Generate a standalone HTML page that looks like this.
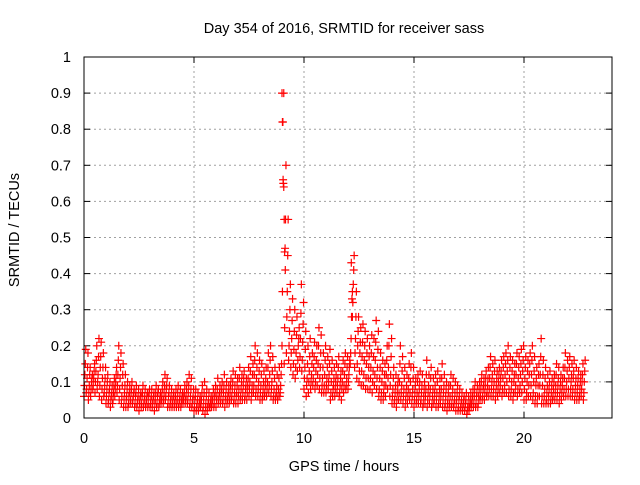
<!DOCTYPE html>
<html><head><meta charset="utf-8">
<style>
html,body{margin:0;padding:0;background:#fff;}
svg text{font-family:"Liberation Sans",sans-serif;font-size:14.5px;fill:#000;}
</style></head>
<body>
<svg id="chart" width="640" height="480" viewBox="0 0 640 480" xmlns="http://www.w3.org/2000/svg">
<rect width="640" height="480" fill="#fff"/>
<text x="344" y="33" text-anchor="middle">Day 354 of 2016, SRMTID for receiver sass</text>
<text x="344" y="471" text-anchor="middle">GPS time / hours</text>
<text transform="translate(19,230) rotate(-90)" text-anchor="middle">SRMTID / TECUs</text>
<g id="grid"></g>
<g id="ticks"></g>
<g id="marks"></g>
<rect x="84" y="57" width="528" height="361" fill="none" stroke="#000" stroke-width="1"/>
</svg>
<script>
const xTicks=[0,5,10,15,20];
const yTicks=[0,0.1,0.2,0.3,0.4,0.5,0.6,0.7,0.8,0.9,1];
const yTickLabels=["0","0.1","0.2","0.3","0.4","0.5","0.6","0.7","0.8","0.9","1"];
const timeStep=0.1;
const hiVals=[19,18,14,12,15,20,22,21,18,14,12,10,9,11,14,20,18,15,12,10,9,10,8,9,8,7,9,8,7,8,8,7,9,8,7,10,12,11,9,8,7,8,9,8,7,9,10,12,11,8,8,7,6,9,10,8,7,6,8,9,11,9,10,12,10,9,11,13,12,11,14,12,13,11,14,17,15,20,18,16,15,13,14,18,20,17,14,12,14,15,90,70,55,37,33,30,28,25,37,32,24,20,22,18,21,20,25,23,18,20,17,19,16,14,15,17,13,16,18,17,16,33,45,35,28,25,26,24,22,20,23,22,27,24,18,16,15,20,26,22,14,12,11,20,17,14,12,15,18,14,11,12,13,12,10,16,12,14,11,12,13,11,15,12,10,9,12,11,10,9,8,7,6,7,6,7,8,10,9,10,12,11,13,14,17,15,16,13,14,16,17,18,20,17,16,15,18,17,19,20,17,16,18,20,17,14,15,22,16,14,12,13,11,12,15,14,12,14,18,16,17,15,16,14,13,12,15,16];
const q3Vals=[15,14,12,11,13,16,17,17,14,11,10,8,7,9,12,16,14,12,9,8,7,8,7,7,6,6,7,6,6,7,6,6,7,7,6,8,9,9,7,6,6,6,7,6,6,7,8,9,8,6,6,5,5,7,7,6,5,5,6,7,8,7,8,9,8,7,9,10,9,9,11,10,11,9,11,13,12,16,14,13,12,10,11,14,16,13,11,9,11,12,65,55,45,30,27,24,23,22,29,26,19,15,17,15,17,16,20,18,14,16,14,15,13,11,12,14,11,13,15,14,14,28,41,28,24,21,21,20,18,17,18,17,21,19,14,13,12,16,20,17,11,9,9,15,13,11,9,11,14,11,9,10,10,9,8,12,9,11,8,9,10,8,11,9,8,7,9,8,7,7,6,5,5,5,4,5,6,8,7,8,10,9,11,11,14,12,13,11,12,13,14,15,16,14,13,12,15,14,15,16,14,13,15,16,13,11,12,17,12,11,9,10,9,10,12,11,10,11,14,13,14,12,13,11,11,10,12,13];
const midVals=[12,11,9,10,11,13,12,14,11,9,8,7,6,7,10,12,11,9,7,6,6,7,6,6,5,5,6,5,5,6,5,5,5,6,5,6,7,8,6,5,5,5,5,5,5,6,6,7,6,5,5,4,4,5,5,4,4,4,5,6,6,6,7,7,6,6,7,8,7,7,8,8,9,8,9,10,9,12,11,10,9,8,9,10,12,10,8,7,8,9,82,47,35,24,22,19,18,20,22,21,14,11,13,12,14,13,15,14,11,12,11,12,10,9,10,11,9,10,12,11,12,22,37,22,20,18,17,16,15,14,14,13,16,14,11,10,9,12,14,12,8,7,7,10,9,8,7,8,10,8,7,7,8,7,6,8,7,8,6,7,7,6,8,7,6,5,6,6,5,5,5,4,4,4,3,4,5,6,6,6,8,8,9,9,11,10,10,9,10,11,11,12,13,11,10,10,12,11,12,13,11,10,12,12,10,9,9,12,9,8,7,8,7,8,9,9,8,9,11,10,11,10,11,9,9,8,10,10];
const q1Vals=[9,8,7,8,9,10,10,9,8,7,6,5,5,5,8,9,8,6,5,5,4,5,5,4,4,4,4,4,4,4,4,4,4,4,4,5,5,6,4,4,4,4,4,4,4,5,5,5,4,4,3,3,3,4,3,3,3,3,4,4,5,5,5,5,5,5,5,6,5,6,6,6,7,6,7,8,7,9,8,8,7,6,7,8,9,8,6,6,6,7,35,25,28,20,18,15,14,16,17,16,11,9,10,10,11,10,12,11,9,9,9,10,7,8,8,9,7,8,9,9,10,18,32,18,15,13,13,12,11,11,11,10,12,11,8,7,7,9,11,9,6,5,5,7,7,6,5,6,7,6,5,5,6,5,4,6,5,6,4,5,5,4,6,5,4,4,4,4,4,4,3,3,3,3,2,3,4,4,4,4,6,6,7,7,8,8,8,7,8,9,8,9,10,8,8,7,9,8,9,10,8,7,9,9,7,6,6,9,6,6,5,6,5,6,7,7,6,7,8,8,8,8,8,7,7,6,8,7];
const loVals=[6,7,5,6,8,7,8,6,5,6,4,4,3,4,6,7,5,4,3,3,3,4,4,3,3,2,3,3,3,3,3,3,2,3,3,4,4,5,3,3,3,3,3,3,3,4,4,4,3,3,2,2,2,3,2,1,2,3,3,3,3,4,4,4,3,4,4,5,4,4,4,5,5,5,5,6,5,7,6,6,5,5,6,6,7,6,5,5,5,6,20,15,18,16,14,12,11,13,14,13,8,6,7,8,9,8,9,8,7,7,7,8,5,6,6,7,6,5,7,8,8,15,28,14,11,10,9,9,8,8,8,7,9,8,6,5,5,6,8,6,4,4,3,5,5,4,3,4,5,4,3,4,4,4,3,4,3,4,3,4,3,3,4,3,3,2,3,3,3,2,2,2,2,2,1,2,3,3,3,3,5,5,5,6,6,6,6,5,6,7,6,7,7,6,6,5,7,6,7,7,5,5,6,6,5,4,4,6,4,4,4,4,4,5,5,5,4,5,6,6,6,6,6,5,5,5,6,5];
const spikeTimes=[9.0,9.02,9.05,9.08,9.1,9.12,9.15,12.15,12.2];
const spikeVals=[0.9,0.82,0.66,0.64,0.55,0.46,0.41,0.43,0.35];

const X0=84,X1=612,Y0=418,Y1=57,XMAX=24,YMAX=1;
const sx=v=>X0+(v/XMAX)*(X1-X0);
const sy=v=>Y0-(v/YMAX)*(Y0-Y1);
const NS="http://www.w3.org/2000/svg";
const grid=document.getElementById('grid'),ticks=document.getElementById('ticks'),marks=document.getElementById('marks');
function mk(tag,attrs,parent){const e=document.createElementNS(NS,tag);for(const k in attrs)e.setAttribute(k,attrs[k]);parent.appendChild(e);return e;}
yTicks.forEach((v,i)=>{
  const y=sy(v);
  if(i>0&&i<yTicks.length-1){const g=mk('line',{x1:X0,x2:X1,y1:y,y2:y,stroke:'#a0a0a0','stroke-dasharray':'2,3'},grid);
  
  }
  const t1=mk('line',{x1:X0,x2:X0+6,y1:y,y2:y,stroke:'#000'},ticks);
  
  
  const t2=mk('line',{x1:X1-6,x2:X1,y1:y,y2:y,stroke:'#000'},ticks);
  
  
  const l=mk('text',{x:X0-13,y:y+5,'text-anchor':'end'},ticks);l.textContent=yTickLabels[i];
  
  
});
xTicks.forEach((v,i)=>{
  const x=sx(v);
  if(i>0){const g=mk('line',{x1:x,x2:x,y1:Y0,y2:Y1,stroke:'#a0a0a0','stroke-dasharray':'2,3'},grid);
  
  }
  const t1=mk('line',{x1:x,x2:x,y1:Y0,y2:Y0-6,stroke:'#000'},ticks);
  
  
  const t2=mk('line',{x1:x,x2:x,y1:Y1,y2:Y1+6,stroke:'#000'},ticks);
  
  
  const l=mk('text',{x:x,y:Y0+25,'text-anchor':'middle'},ticks);l.textContent=String(v);
  
  
});
function plus(t,v){
  const x=sx(t),y=sy(v);
  const p=mk('path',{d:`M${x-4},${y}H${x+4}M${x},${y-4}V${y+4}`,stroke:'#ff0000','stroke-width':'1.2',fill:'none'},marks);
  
  
}
const seriesList=[loVals,q1Vals,midVals,q3Vals,hiVals];
const seriesOffset=[0,0.02,0.04,0.06,0.08];
seriesList.forEach((arr,s)=>arr.forEach((v,i)=>plus(i*timeStep+seriesOffset[s],v/100)));
spikeTimes.forEach((t,i)=>plus(t,spikeVals[i]));
</script>
</body></html>
